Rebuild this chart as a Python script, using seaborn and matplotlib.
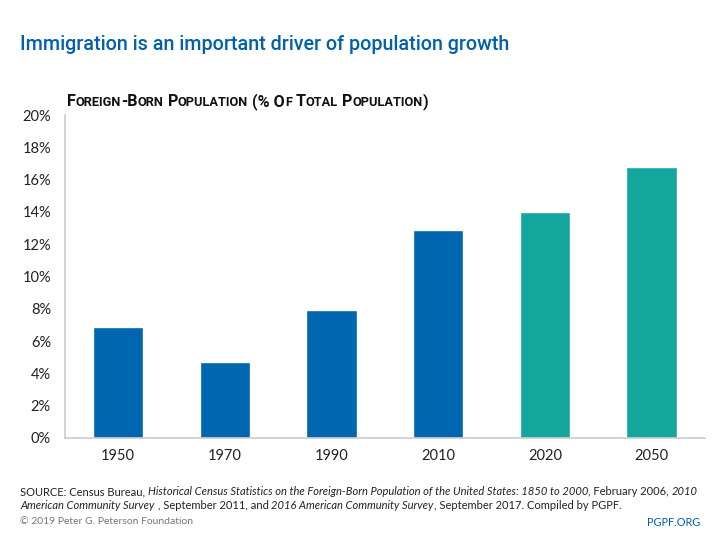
import pandas as pd
import matplotlib
matplotlib.use("Agg")
import matplotlib.pyplot as plt
import seaborn as sns
from matplotlib.ticker import FuncFormatter

years = ["1950", "1970", "1990", "2010", "2020", "2050"]
share = [6.9, 4.7, 7.9, 12.9, 14.0, 16.8]
kind = ["actual", "actual", "actual", "actual", "projected", "projected"]

df = pd.DataFrame({"year": years, "share": share, "kind": kind})

sns.set_style("white")
plt.rcParams["font.family"] = ["Lato", "DejaVu Sans"]

blue = "#0066b0"
teal = "#12a69c"

fig = plt.figure(figsize=(7.2, 5.4), dpi=100)
ax = fig.add_axes([0.090, 0.189, 0.889, 0.598])

sns.barplot(data=df, x="year", y="share", hue="kind",
            palette={"actual": blue, "projected": teal}, saturation=1,
            dodge=False, width=0.47, legend=False, ax=ax)

ax.set_ylim(0, 20)
ax.set_yticks(range(0, 21, 2))
ax.yaxis.set_major_formatter(FuncFormatter(lambda v, p: f"{v:.0f}%"))
ax.set_xlabel("")
ax.set_ylabel("")
ax.tick_params(axis="y", length=4, color="#cccccc", labelsize=10.5, labelcolor="#222222", pad=6)
ax.tick_params(axis="x", length=0, labelsize=10.5, labelcolor="#222222", pad=8)
for s in ["top", "right"]:
    ax.spines[s].set_visible(False)
for s in ["left", "bottom"]:
    ax.spines[s].set_color("#cccccc")
    ax.spines[s].set_linewidth(1.2)

fig.text(0.028, 0.917, "Immigration is an important driver of population growth",
         color="#0061aa", fontsize=14.2, fontweight="medium", fontfamily=["Roboto", "DejaVu Sans"],
         va="center", ha="left")

fig.canvas.draw()
renderer = fig.canvas.get_renderer()

def runs(parts, x, y, size=8.0, color="#222222", **kw):
    for txt, style, sz in parts:
        t = fig.text(x, y, txt, fontsize=sz or size, style=style, color=color,
                     va="baseline", ha="left", **kw)
        bb = t.get_window_extent(renderer=renderer)
        x += bb.width / fig.bbox.width

# heading in small caps
heading = "Foreign-Born Population (% Of Total Population)"
pieces = []
for ch in heading:
    big = not ch.islower()
    sz = 11.6 if big else 9.2
    if pieces and pieces[-1][2] == sz:
        pieces[-1] = (pieces[-1][0] + ch.upper(), "normal", sz)
    else:
        pieces.append((ch.upper(), "normal", sz))
runs(pieces, 0.093, 1 - 106 / 540, color="#111111", fontweight="bold",
     fontfamily=["Roboto", "DejaVu Sans"])

runs([("SOURCE: Census Bureau, ", "normal", None),
      ("Historical Census Statistics on the Foreign-Born Population of the United States: 1850 to 2000", "italic", None),
      (", February 2006, ", "normal", None),
      ("2010", "italic", None)], 0.028, 1 - 495 / 540)
runs([("American Community Survey", "italic", None),
      (" , September 2011, and ", "normal", None),
      ("2016 American Community Survey", "italic", None),
      (", September 2017. Compiled by PGPF.", "normal", None)], 0.028, 1 - 509 / 540)

fig.text(0.028, 1 - 522 / 540, "\u00a9 2019 Peter G. Peterson Foundation", fontsize=7.5, color="#777777",
         va="center", ha="left")
fig.text(0.972, 1 - 522 / 540, "PGPF.ORG", fontsize=7.8, color="#0061aa", va="center", ha="right")

fig.savefig("out.png", dpi=100)
